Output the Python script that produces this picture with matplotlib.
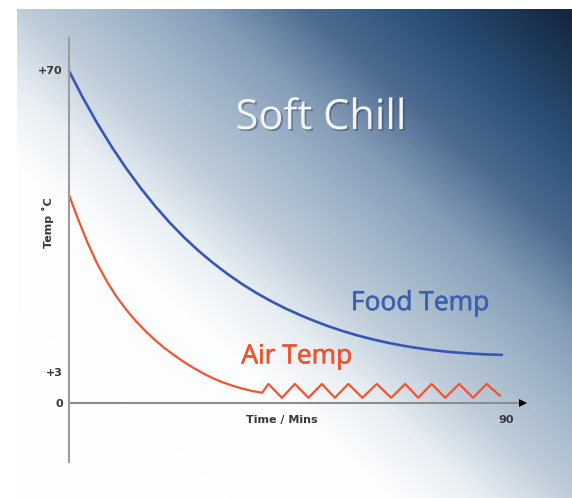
import numpy as np
import matplotlib
matplotlib.use("Agg")
import matplotlib.pyplot as plt
from matplotlib.colors import LinearSegmentedColormap
import matplotlib.patheffects as pe

# ---- data ----
food_t = [0, 3, 6, 9, 12, 15, 18, 21, 24, 27, 30, 33, 36, 39, 42, 45, 48, 51, 54, 57,
          60, 63, 66, 69, 72, 75, 78, 81, 84, 87, 90]
food_v = [70.0, 64.15, 58.75, 53.8, 49.3, 45.16, 41.38, 37.93, 34.81, 31.99, 29.44, 27.13,
          25.03, 23.14, 21.43, 19.9, 18.52, 17.26, 16.12, 15.1, 14.2, 13.42, 12.73, 12.13,
          11.62, 11.2, 10.84, 10.57, 10.36, 10.21, 10.12]

air_t = [0, 2, 4, 6, 8, 10, 12, 14, 16, 18, 20, 22, 24, 26, 28, 30, 32, 34, 36, 38, 40.2,
         41.5, 44.3, 47.0, 49.8, 52.6, 55.3, 58.1, 61.0, 64.0, 67.0, 69.9, 72.6,
         75.4, 78.2, 81.1, 84.0, 86.8, 89.6]
air_v = [44.0, 38.6, 33.6, 29.2, 25.5, 22.3, 19.6, 17.2, 15.1, 13.2, 11.5, 10.0, 8.6, 7.35,
         6.2, 5.2, 4.35, 3.65, 3.05, 2.55, 2.15,
         4.0, 1.1, 4.0, 1.1, 4.0, 1.1, 4.0, 1.1, 4.0, 1.1, 4.0, 1.1,
         4.0, 1.1, 4.0, 1.1, 4.0, 1.5]

ytick_vals = [0, 6.5, 70]
ytick_labels = ["0", "+3", "+70"]
xtick_vals = [90]
xtick_labels = ["90"]

title = "Soft Chill"
food_label = "Food Temp"
air_label = "Air Temp"
xlab = "Time / Mins"
ylab = "Temp \u02daC"

W, H = 572, 498
fig = plt.figure(figsize=(W / 100, H / 100), dpi=100)
fig.patch.set_facecolor("white")

# ---- gradient background ----
bg = fig.add_axes([17 / W, 0, 1 - 17 / W, 1 - 9 / H])
bg.set_axis_off()
nx, ny = 400, 360
u = np.linspace(0, 1, nx)[None, :]
v = np.linspace(1, 0, ny)[:, None]
s = (u + v) / 2.0
stops = [
    (0.0, (1.0, 1.0, 1.0)),
    (0.34, (0.99, 0.993, 0.997)),
    (0.42, (0.91, 0.935, 0.955)),
    (0.50, (0.75, 0.805, 0.855)),
    (0.60, (0.62, 0.70, 0.78)),
    (0.67, (0.52, 0.61, 0.715)),
    (0.76, (0.30, 0.42, 0.57)),
    (0.86, (0.165, 0.31, 0.465)),
    (1.0, (0.08, 0.14, 0.24)),
]
cmap = LinearSegmentedColormap.from_list("bg", stops)
bg.imshow(s, cmap=cmap, vmin=0, vmax=1, aspect="auto", extent=[0, 1, 0, 1], interpolation="bilinear")
bg.set_xlim(0, 1)
bg.set_ylim(0, 1)

# ---- main axes ----
px_per_min = 4.817
px_per_deg = 4.757
left_px = 68.5
top_px, bot_px = 38, 462
x_max = 96
ax = fig.add_axes([left_px / W, (H - bot_px) / H, x_max * px_per_min / W, (bot_px - top_px) / H])
ax.patch.set_alpha(0)
ax.set_xlim(0, x_max)
ax.set_ylim((403 - bot_px) / px_per_deg, (403 - top_px) / px_per_deg)
for sp in ["top", "right", "bottom"]:
    ax.spines[sp].set_visible(False)
ax.spines["left"].set_color("#9c9c9c")
ax.spines["left"].set_linewidth(1.5)

# x axis with arrow
ax.plot([0, 93.8], [0, 0], color="#8c8c8c", lw=1.5, solid_capstyle="butt")
ax.plot([94.4], [0], marker=">", color="black", markersize=5.5, markeredgewidth=0)

ax.plot(food_t, food_v, color="#3656b8", lw=1.9, solid_joinstyle="round", solid_capstyle="round")
ax.plot(air_t, air_v, color="#f2542f", lw=1.6, solid_joinstyle="round", solid_capstyle="round")

lab_kw = dict(fontsize=8, color="#383838", fontweight="bold")
ax.set_yticks(ytick_vals)
ax.set_yticklabels(ytick_labels)
ax.set_xticks([])
ax.tick_params(axis="y", length=0, pad=4)
for lbl in ax.get_yticklabels():
    lbl.set_fontsize(8)
    lbl.set_color("#383838")
    lbl.set_fontweight("bold")

for xv, xl in zip(xtick_vals, xtick_labels):
    ax.annotate(xl, (xv, 0), xytext=(3, -12.5), textcoords="offset points",
                ha="center", va="center", **lab_kw)
ax.annotate(xlab, (44.3, 0), xytext=(0, -12.5), textcoords="offset points",
            ha="center", va="center", **lab_kw)

ax.annotate(ylab, (0, 38.0), xytext=(-15, 0), textcoords="offset points",
            ha="center", va="center", rotation=90, **lab_kw)

ax.text(52.4, 59.9, title, ha="center", va="center", fontsize=30, family="Open Sans",
        color="#f2f4f7",
        path_effects=[pe.withSimplePatchShadow(offset=(1.2, -1.2), shadow_rgbFace="#2a3a50", alpha=0.45)])
ax.text(73.0, 20.9, food_label, ha="center", va="center", fontsize=19, family="Open Sans",
        color="#3b60b0",
        path_effects=[pe.Stroke(linewidth=0.45, foreground="#3b60b0"), pe.Normal()])
ax.text(47.4, 9.7, air_label, ha="center", va="center", fontsize=19, family="Open Sans",
        color="#ea5530",
        path_effects=[pe.Stroke(linewidth=0.45, foreground="#ea5530"), pe.Normal()])

fig.savefig("out.png", dpi=100)
